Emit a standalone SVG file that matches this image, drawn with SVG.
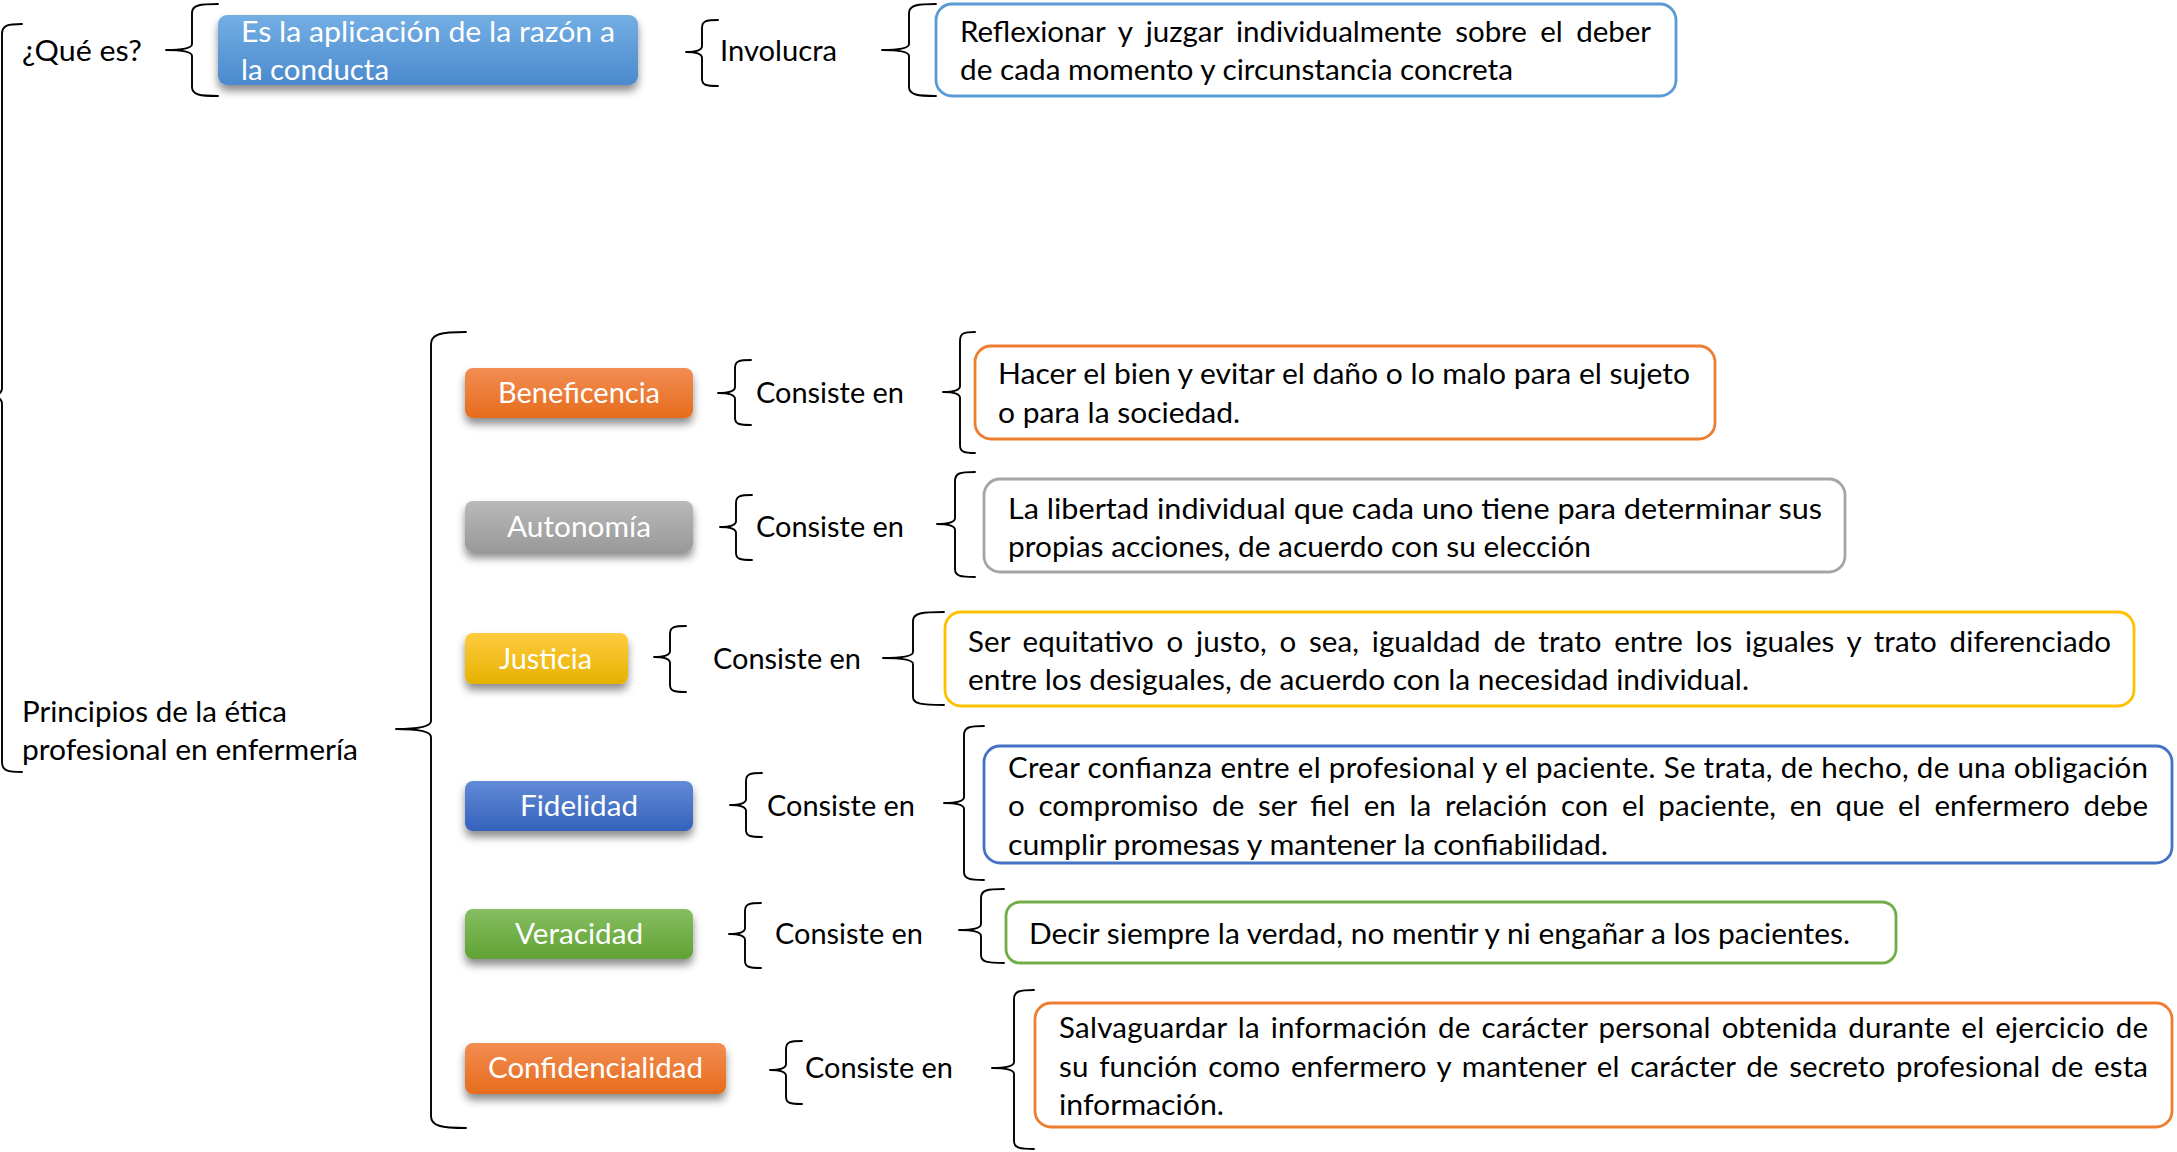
<svg xmlns="http://www.w3.org/2000/svg" width="2177" height="1152" viewBox="0 0 2177 1152">
<style>
text{font-family:Lato,"Open Sans","Liberation Sans",sans-serif;font-size:29.5px;fill:#000}
.w{fill:#fff}
.br{fill:none;stroke:#000;stroke-width:1.9;stroke-linejoin:round;stroke-linecap:round}
.ob{fill:#fff;stroke-width:2.8}
</style>
<defs>
<filter id="sh" x="-10%" y="-20%" width="120%" height="160%">
<feDropShadow dx="0" dy="6" stdDeviation="4" flood-color="#000" flood-opacity="0.45"/>
</filter>
<linearGradient id="gBlue1" x1="0" y1="0" x2="0" y2="1"><stop offset="0" stop-color="#74afe4"/><stop offset="1" stop-color="#4a89cd"/></linearGradient>
<linearGradient id="gOr" x1="0" y1="0" x2="0" y2="1"><stop offset="0" stop-color="#f28d53"/><stop offset="1" stop-color="#e66c1c"/></linearGradient>
<linearGradient id="gGr" x1="0" y1="0" x2="0" y2="1"><stop offset="0" stop-color="#b9b9b9"/><stop offset="1" stop-color="#999999"/></linearGradient>
<linearGradient id="gYe" x1="0" y1="0" x2="0" y2="1"><stop offset="0" stop-color="#ffcb3f"/><stop offset="1" stop-color="#e6b200"/></linearGradient>
<linearGradient id="gBl" x1="0" y1="0" x2="0" y2="1"><stop offset="0" stop-color="#618ad6"/><stop offset="1" stop-color="#3462bc"/></linearGradient>
<linearGradient id="gGn" x1="0" y1="0" x2="0" y2="1"><stop offset="0" stop-color="#86be61"/><stop offset="1" stop-color="#60a234"/></linearGradient>
</defs>

<g id="connectors">
<path class="br" d="M22,24 C8,24 2,25 2,34 L2,388 Q2,396 -12,396 Q2,396 2,404 L2,762 C2,771 8,772 22,772"/>
<path class="br" d="M218,4 C200,4 192,5 192,13 L192,44 Q192,50 166,50 Q192,50 192,56 L192,87 C192,95 200,96 218,96"/>
<path class="br" d="M718,20 C706,20 702,21 702,28 L702,46 Q702,52 686,52 Q702,52 702,58 L702,79 C702,85 706,86 718,86"/>
<path class="br" d="M936,4 C918,4 909,5 909,13 L909,44 Q909,50 882,50 Q909,50 909,56 L909,87 C909,95 918,96 936,96"/>
<path class="br" d="M466,332 C441,332 431,334 431,344 L431,721 Q431,729 396,729 Q431,729 431,737 L431,1116 C431,1126 441,1128 466,1128"/>
<path class="br" d="M751,360 C739,360 735,361 735,368 L735,387 Q735,393 718,393 Q735,393 735,399 L735,418 C735,424 739,425 751,425"/>
<path class="br" d="M975,332 C964,332 960,333 960,341 L960,386 Q960,392 943,392 Q960,392 960,398 L960,445 C960,452 964,453 975,453"/>
<path class="br" d="M752,495 C740,495 736,496 736,503 L736,521 Q736,527 720,527 Q736,527 736,533 L736,553 C736,559 740,560 752,560"/>
<path class="br" d="M975,472 C960,472 955,473 955,481 L955,518 Q955,524 937,524 Q955,524 955,530 L955,569 C955,576 960,577 975,577"/>
<path class="br" d="M686,626 C674,626 670,627 670,634 L670,651 Q670,657 654,657 Q670,657 670,663 L670,685 C670,691 674,692 686,692"/>
<path class="br" d="M944,612 C922,612 913,613 913,621 L913,652 Q913,658 883,658 Q913,658 913,664 L913,697 C913,704 922,705 944,705"/>
<path class="br" d="M762,773 C750,773 746,774 746,781 L746,799 Q746,805 730,805 Q746,805 746,811 L746,830 C746,836 750,837 762,837"/>
<path class="br" d="M984,726 C970,726 964,727 964,735 L964,797 Q964,803 944,803 Q964,803 964,809 L964,872 C964,879 970,880 984,880"/>
<path class="br" d="M761,903 C749,903 745,904 745,911 L745,928 Q745,934 729,934 Q745,934 745,940 L745,961 C745,967 749,968 761,968"/>
<path class="br" d="M1004,889 C987,889 981,890 981,898 L981,924 Q981,930 959,930 Q981,930 981,936 L981,955 C981,962 987,963 1004,963"/>
<path class="br" d="M802,1041 C790,1041 786,1042 786,1049 L786,1064 Q786,1070 770,1070 Q786,1070 786,1076 L786,1097 C786,1103 790,1104 802,1104"/>
<path class="br" d="M1034,990 C1020,990 1014,991 1014,999 L1014,1062 Q1014,1068 992,1068 Q1014,1068 1014,1074 L1014,1141 C1014,1148 1020,1149 1034,1149"/>
</g>

<g id="n-quees"><text x="22" y="61" textLength="120" lengthAdjust="spacingAndGlyphs">¿Qué es?</text></g>

<g id="n-aplicacion">
<rect x="218" y="15" width="420" height="70" rx="9" fill="url(#gBlue1)" filter="url(#sh)"/>
<text class="w" x="241" y="42" textLength="374" lengthAdjust="spacingAndGlyphs">Es la aplicación de la razón a</text>
<text class="w" x="241" y="80" textLength="148" lengthAdjust="spacingAndGlyphs">la conducta</text>
</g>

<g id="n-involucra"><text x="720" y="61" textLength="117" lengthAdjust="spacingAndGlyphs">Involucra</text></g>

<g id="n-reflexionar">
<rect class="ob" x="936" y="4" width="740" height="92" rx="16" stroke="#5b9bd5"/>
<text x="960" y="42" word-spacing="6" textLength="691" lengthAdjust="spacing">Reflexionar y juzgar individualmente sobre el deber</text>
<text x="960" y="80" textLength="553" lengthAdjust="spacingAndGlyphs">de cada momento y circunstancia concreta</text>
</g>

<g id="n-principios">
<text x="22" y="722" textLength="265" lengthAdjust="spacingAndGlyphs">Principios de la ética</text>
<text x="22" y="760" textLength="336" lengthAdjust="spacingAndGlyphs">profesional en enfermería</text>
</g>

<g id="n-beneficencia">
<rect x="465" y="368" width="228" height="50" rx="8" fill="url(#gOr)" filter="url(#sh)"/>
<text class="w" x="498" y="403" textLength="162" lengthAdjust="spacingAndGlyphs">Beneficencia</text>
</g>
<g id="n-consiste1"><text x="756" y="403" textLength="148" lengthAdjust="spacingAndGlyphs">Consiste en</text></g>
<g id="n-def1">
<rect class="ob" x="975" y="346" width="740" height="93" rx="16" stroke="#ed7d31"/>
<text x="998" y="384" textLength="692" lengthAdjust="spacingAndGlyphs">Hacer el bien y evitar el daño o lo malo para el sujeto</text>
<text x="998" y="423" textLength="242" lengthAdjust="spacingAndGlyphs">o para la sociedad.</text>
</g>

<g id="n-autonomia">
<rect x="465" y="501" width="228" height="51" rx="8" fill="url(#gGr)" filter="url(#sh)"/>
<text class="w" x="507" y="537" textLength="144" lengthAdjust="spacingAndGlyphs">Autonomía</text>
</g>
<g id="n-consiste2"><text x="756" y="537" textLength="148" lengthAdjust="spacingAndGlyphs">Consiste en</text></g>
<g id="n-def2">
<rect class="ob" x="984" y="479" width="861" height="93" rx="16" stroke="#a5a5a5"/>
<text x="1008" y="519" textLength="814" lengthAdjust="spacingAndGlyphs">La libertad individual que cada uno tiene para determinar sus</text>
<text x="1008" y="557" textLength="583" lengthAdjust="spacingAndGlyphs">propias acciones, de acuerdo con su elección</text>
</g>

<g id="n-justicia">
<rect x="465" y="633" width="163" height="51" rx="8" fill="url(#gYe)" filter="url(#sh)"/>
<text class="w" x="499" y="669" textLength="93" lengthAdjust="spacingAndGlyphs">Justicia</text>
</g>
<g id="n-consiste3"><text x="713" y="669" textLength="148" lengthAdjust="spacingAndGlyphs">Consiste en</text></g>
<g id="n-def3">
<rect class="ob" x="945" y="612" width="1189" height="94" rx="16" stroke="#ffc000"/>
<text x="968" y="652" word-spacing="5" textLength="1143" lengthAdjust="spacing">Ser equitativo o justo, o sea, igualdad de trato entre los iguales y trato diferenciado</text>
<text x="968" y="690" textLength="781" lengthAdjust="spacingAndGlyphs">entre los desiguales, de acuerdo con la necesidad individual.</text>
</g>

<g id="n-fidelidad">
<rect x="465" y="781" width="228" height="50" rx="8" fill="url(#gBl)" filter="url(#sh)"/>
<text class="w" x="520" y="816" textLength="118" lengthAdjust="spacingAndGlyphs">Fidelidad</text>
</g>
<g id="n-consiste4"><text x="767" y="816" textLength="148" lengthAdjust="spacingAndGlyphs">Consiste en</text></g>
<g id="n-def4">
<rect class="ob" x="984" y="746" width="1188" height="117" rx="16" stroke="#4472c4"/>
<text x="1008" y="778" textLength="1140" lengthAdjust="spacing">Crear confianza entre el profesional y el paciente. Se trata, de hecho, de una obligación</text>
<text x="1008" y="816" word-spacing="6" textLength="1140" lengthAdjust="spacing">o compromiso de ser fiel en la relación con el paciente, en que el enfermero debe</text>
<text x="1008" y="855" textLength="600" lengthAdjust="spacingAndGlyphs">cumplir promesas y mantener la confiabilidad.</text>
</g>

<g id="n-veracidad">
<rect x="465" y="909" width="228" height="50" rx="8" fill="url(#gGn)" filter="url(#sh)"/>
<text class="w" x="515" y="944" textLength="128" lengthAdjust="spacingAndGlyphs">Veracidad</text>
</g>
<g id="n-consiste5"><text x="775" y="944" textLength="148" lengthAdjust="spacingAndGlyphs">Consiste en</text></g>
<g id="n-def5">
<rect class="ob" x="1006" y="902" width="890" height="61" rx="14" stroke="#70ad47"/>
<text x="1029" y="944" textLength="821" lengthAdjust="spacingAndGlyphs">Decir siempre la verdad, no mentir y ni engañar a los pacientes.</text>
</g>

<g id="n-confidencialidad">
<rect x="465" y="1043" width="261" height="51" rx="8" fill="url(#gOr)" filter="url(#sh)"/>
<text class="w" x="488" y="1078" textLength="215" lengthAdjust="spacingAndGlyphs">Confidencialidad</text>
</g>
<g id="n-consiste6"><text x="805" y="1078" textLength="148" lengthAdjust="spacingAndGlyphs">Consiste en</text></g>
<g id="n-def6">
<rect class="ob" x="1035" y="1003" width="1137" height="124" rx="16" stroke="#ed7d31"/>
<text x="1059" y="1038" word-spacing="3" textLength="1089" lengthAdjust="spacing">Salvaguardar la información de carácter personal obtenida durante el ejercicio de</text>
<text x="1059" y="1077" word-spacing="3" textLength="1089" lengthAdjust="spacing">su función como enfermero y mantener el carácter de secreto profesional de esta</text>
<text x="1059" y="1115" textLength="165" lengthAdjust="spacingAndGlyphs">información.</text>
</g>
</svg>
